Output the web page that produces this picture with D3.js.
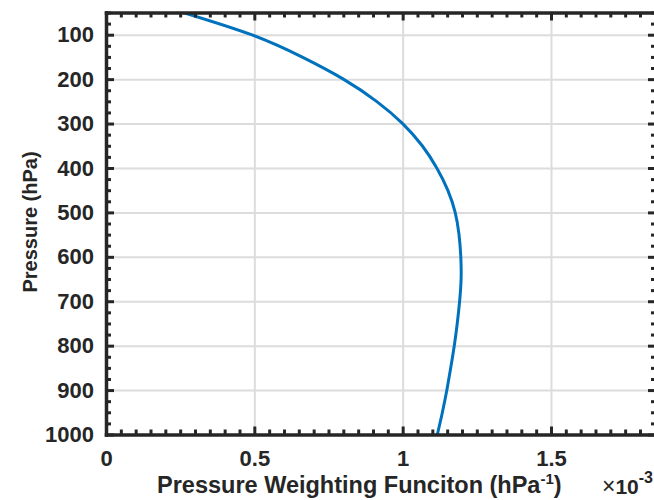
<!DOCTYPE html>
<html>
<head>
<meta charset="utf-8">
<script src="https://cdn.jsdelivr.net/npm/d3@7"></script>
<style>
  html, body { margin: 0; padding: 0; background: #ffffff; }
  svg { display: block; }
  text { font-family: "Liberation Sans", Arial, Helvetica, sans-serif; fill: #262626; }
</style>
</head>
<body>
<svg id="chart" width="654" height="500"></svg>
<script>
// Pressure levels (hPa) and the pressure weighting function (hPa^-1) at each level
const pressureLevels = [50, 100, 150, 200, 250, 300, 350, 400, 450, 500,
                        550, 600, 650, 700, 750, 800, 850, 900, 950, 1000];
const weightingValues = [0.260e-3, 0.490e-3, 0.660e-3, 0.800e-3, 0.912e-3,
                         1.000e-3, 1.066e-3, 1.115e-3, 1.152e-3, 1.177e-3,
                         1.190e-3, 1.196e-3, 1.197e-3, 1.192e-3, 1.184e-3,
                         1.174e-3, 1.162e-3, 1.149e-3, 1.134e-3, 1.117e-3];

// Axis ticks and labels
const xDomain = [0, 1.854e-3];
const yDomain = [50, 1000];
const xMajorTicks = [0, 0.5e-3, 1.0e-3, 1.5e-3];
const xTickLabels = ["0", "0.5", "1", "1.5"];
const xGridTicks = [0.5e-3, 1.0e-3, 1.5e-3];
const yMajorTicks = [100, 200, 300, 400, 500, 600, 700, 800, 900, 1000];
const yTickLabels = ["100", "200", "300", "400", "500", "600", "700", "800", "900", "1000"];
const yGridTicks = [100, 200, 300, 400, 500, 600, 700, 800, 900];
const xLabelMain = "Pressure Weighting Funciton (hPa";
const xLabelSup = "-1";
const xLabelEnd = ")";
const yLabelText = "Pressure (hPa)";
const exponentBase = "10";
const exponentPower = "-3";

// Layout
const plotLeft = 106, plotRight = 656, plotTop = 12.5, plotBottom = 434.5;
const axisColor = "#262626";
const lineColor = "#0072BD";
const gridColor = "#dcdcdc";
const tickFont = 22;

const svg = d3.select("#chart");
svg.append("rect").attr("width", 654).attr("height", 500).attr("fill", "#ffffff");

const x = d3.scaleLinear().domain(xDomain).range([plotLeft, plotRight]);
const y = d3.scaleLinear().domain(yDomain).range([plotTop, plotBottom]);

// Minor tick positions
const xMinorTicks = d3.range(0, 37).map(i => i * 0.05e-3)
  .filter(v => v <= xDomain[1] && !xMajorTicks.some(m => Math.abs(m - v) < 1e-9));
const yMinorTicks = d3.range(50, 1001, 25).filter(v => v % 100 !== 0);

// Grid lines
const gridX = svg.append("g")
  .attr("transform", `translate(0,${plotBottom})`)
  .call(d3.axisBottom(x).tickValues(xGridTicks).tickFormat("").tickSize(-(plotBottom - plotTop)).tickSizeOuter(0));
const gridY = svg.append("g")
  .attr("transform", `translate(${plotLeft},0)`)
  .call(d3.axisLeft(y).tickValues(yGridTicks).tickFormat("").tickSize(-(plotRight - plotLeft)).tickSizeOuter(0));
[gridX, gridY].forEach(g => {
  g.select(".domain").remove();
  g.selectAll(".tick line").attr("stroke", gridColor).attr("stroke-width", 2);
});

// Weighting-function curve
svg.append("clipPath").attr("id", "plot-clip")
  .append("rect").attr("x", plotLeft).attr("y", plotTop)
  .attr("width", plotRight - plotLeft).attr("height", plotBottom - plotTop);

const profile = pressureLevels.map((p, i) => ({ p, w: weightingValues[i] }));
const line = d3.line()
  .x(d => x(d.w))
  .y(d => y(d.p))
  .curve(d3.curveNatural);

svg.append("path")
  .datum(profile)
  .attr("clip-path", "url(#plot-clip)")
  .attr("fill", "none")
  .attr("stroke", lineColor)
  .attr("stroke-width", 3)
  .attr("stroke-linejoin", "round")
  .attr("d", line);

// Axes: major and minor ticks pointing inward on all four sides
function styleAxis(g, keepDomain) {
  g.attr("font-family", null).attr("font-size", null);
  g.selectAll(".tick line").attr("stroke", axisColor).attr("stroke-width", 3);
  g.selectAll(".tick text")
    .attr("fill", axisColor)
    .style("font-size", tickFont + "px")
    .style("font-weight", "bold");
  if (keepDomain) {
    g.select(".domain").attr("stroke", axisColor).attr("stroke-width", 3.5).attr("stroke-linecap", "square");
  } else {
    g.select(".domain").remove();
  }
}

// bottom
const bottomMinor = svg.append("g").attr("transform", `translate(0,${plotBottom})`)
  .call(d3.axisBottom(x).tickValues(xMinorTicks).tickFormat("").tickSize(-5).tickSizeOuter(0));
styleAxis(bottomMinor, false);
const bottomMajor = svg.append("g").attr("transform", `translate(0,${plotBottom})`)
  .call(d3.axisBottom(x).tickValues(xMajorTicks).tickFormat((d, i) => xTickLabels[i])
    .tickSize(-8).tickSizeOuter(0).tickPadding(16));
styleAxis(bottomMajor, true);

// top
const topMinor = svg.append("g").attr("transform", `translate(0,${plotTop})`)
  .call(d3.axisTop(x).tickValues(xMinorTicks).tickFormat("").tickSize(-5).tickSizeOuter(0));
styleAxis(topMinor, false);
const topMajor = svg.append("g").attr("transform", `translate(0,${plotTop})`)
  .call(d3.axisTop(x).tickValues(xMajorTicks).tickFormat("").tickSize(-8).tickSizeOuter(0));
styleAxis(topMajor, true);

// left
const leftMinor = svg.append("g").attr("transform", `translate(${plotLeft},0)`)
  .call(d3.axisLeft(y).tickValues(yMinorTicks).tickFormat("").tickSize(-5).tickSizeOuter(0));
styleAxis(leftMinor, false);
const leftMajor = svg.append("g").attr("transform", `translate(${plotLeft},0)`)
  .call(d3.axisLeft(y).tickValues(yMajorTicks).tickFormat((d, i) => yTickLabels[i])
    .tickSize(-8).tickSizeOuter(0).tickPadding(12));
styleAxis(leftMajor, true);

// right
const rightMinor = svg.append("g").attr("transform", `translate(${plotRight},0)`)
  .call(d3.axisRight(y).tickValues(yMinorTicks).tickFormat("").tickSize(-5).tickSizeOuter(0));
styleAxis(rightMinor, false);
const rightMajor = svg.append("g").attr("transform", `translate(${plotRight},0)`)
  .call(d3.axisRight(y).tickValues(yMajorTicks).tickFormat("").tickSize(-8).tickSizeOuter(0));
styleAxis(rightMajor, true);

// Axis titles
const xLabel = svg.append("text")
  .attr("x", 157).attr("y", 493)
  .style("font-size", "23.5px").style("font-weight", "bold");
xLabel.append("tspan").text(xLabelMain);
xLabel.append("tspan").style("font-size", "15px").attr("dy", -9).text(xLabelSup);
xLabel.append("tspan").attr("dy", 9).text(xLabelEnd);

svg.append("text")
  .attr("transform", "translate(37,222) rotate(-90)")
  .attr("text-anchor", "middle")
  .style("font-size", "20px").style("font-weight", "bold")
  .text(yLabelText);

// Exponent multiplier for the x axis
const expLabel = svg.append("text")
  .attr("x", 653).attr("y", 494)
  .attr("text-anchor", "end")
  .style("font-size", "21px");
expLabel.append("tspan").style("font-weight", "normal").style("font-size", "23px").text("\u00D7");
expLabel.append("tspan").style("font-weight", "bold").text(exponentBase);
expLabel.append("tspan").style("font-weight", "bold").style("font-size", "16px").attr("dy", -11).text(exponentPower);
</script>
</body>
</html>
